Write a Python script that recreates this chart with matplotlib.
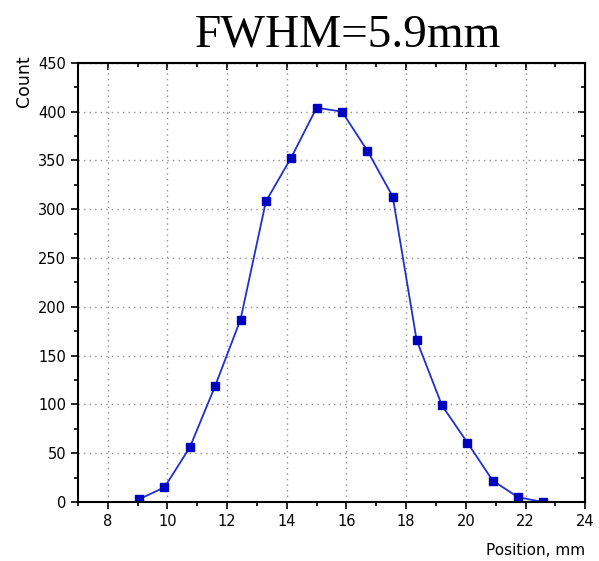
import matplotlib
matplotlib.use('Agg')
import matplotlib.pyplot as plt
from matplotlib.ticker import MultipleLocator

# values
position = [9.05, 9.9, 10.75, 11.6, 12.45, 13.3, 14.15, 15.0, 15.85,
            16.7, 17.55, 18.35, 19.2, 20.05, 20.9, 21.75, 22.6]
count = [3, 15, 56, 119, 187, 308, 353, 404, 400,
         360, 313, 166, 99, 61, 22, 5, 0]

fig = plt.figure(figsize=(5.99, 5.61), dpi=100)
ax = fig.add_axes([0.130, 0.105, 0.847, 0.783])

ax.plot(position, count, color='#2030d0', lw=1.3, marker='s', ms=5.5,
        mfc='#0000c0', mec='#0000c0')

ax.set_xlim(7, 24)
ax.set_ylim(0, 450)
ax.xaxis.set_major_locator(MultipleLocator(2))
ax.xaxis.set_minor_locator(MultipleLocator(1))
ax.yaxis.set_major_locator(MultipleLocator(50))
ax.yaxis.set_minor_locator(MultipleLocator(25))
ax.grid(True, which='major', color='#909090', ls=(0, (1, 3)), lw=1)

ax.tick_params(which='both', direction='out', top=False, right=False,
               labelsize=10.5, width=1.2)
ax.tick_params(which='major', length=5)
ax.tick_params(which='minor', length=3)
for side in ['left', 'bottom', 'top', 'right']:
    ax.spines[side].set_linewidth(1.5)

sec_x = ax.secondary_xaxis('top')
sec_x.xaxis.set_major_locator(MultipleLocator(2))
sec_x.xaxis.set_minor_locator(MultipleLocator(1))
sec_x.tick_params(which='both', direction='in', labeltop=False, width=1.2)
sec_x.tick_params(which='major', length=5)
sec_x.tick_params(which='minor', length=3)
sec_y = ax.secondary_yaxis('right')
sec_y.yaxis.set_major_locator(MultipleLocator(50))
sec_y.yaxis.set_minor_locator(MultipleLocator(25))
sec_y.tick_params(which='both', direction='in', labelright=False, width=1.2)
sec_y.tick_params(which='major', length=5)
sec_y.tick_params(which='minor', length=3)

fig.text(0.58, 0.975, 'FWHM=5.9mm', family='Liberation Serif', fontsize=34,
         ha='center', va='top')
fig.text(0.977, 0.005, 'Position, mm', fontsize=11, ha='right', va='bottom')
fig.text(0.04, 0.855, 'Count', fontsize=12.5, rotation=90, ha='center', va='center')

fig.savefig('out.png', dpi=100)
